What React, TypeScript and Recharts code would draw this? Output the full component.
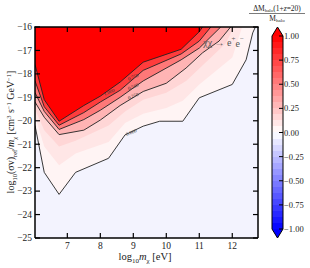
import React from 'react';
import { ComposedChart, Area, XAxis, YAxis, CartesianGrid, ReferenceDot, BarChart, Bar } from 'recharts';

const X_TICKS = [7, 8, 9, 10, 11, 12];
const Y_TICKS = [-25, -24, -23, -22, -21, -20, -19, -18, -17, -16];
const CBAR_TICKS = [-1, -0.75, -0.5, -0.25, 0, 0.25, 0.5, 0.75, 1];
const X_DOMAIN = [6.02, 12.78];
const Y_DOMAIN = [-25, -16];

// contours of dM/M: [log10 m (eV), log10 <sv>/m]
const LEVEL_000 = [[6.02, -20.2], [6.3, -22.2], [6.75, -23.14], [7.25, -22.2], [8.25, -21.6], [8.75, -20.6], [9.3, -20.23], [9.8, -20.02], [10.5, -20.02], [11.0, -19.02], [12.0, -18.45], [12.42, -17.4], [12.62, -16.25], [12.7, -16]];
const LEVEL_008 = [[6.02, -19.8], [6.3, -21.1], [6.75, -21.9], [7.25, -21.4], [8.25, -20.9], [8.75, -20.1], [9.3, -19.7], [10.0, -19.45], [10.5, -19.15], [11.0, -18.45], [12.0, -17.3], [12.3, -16]];
const LEVEL_016 = [[6.02, -19.5], [6.3, -20.4], [6.75, -21.1], [7.25, -20.85], [8.25, -20.2], [8.75, -19.6], [9.3, -19.1], [10.0, -18.8], [10.6, -18.3], [11.2, -17.5], [11.8, -16.7], [12.05, -16]];
const LEVEL_025 = [[6.02, -19.2], [6.3, -19.85], [6.75, -20.59], [7.5, -20.4], [8.0, -19.97], [8.6, -19.35], [9.3, -18.75], [10.0, -18.4], [10.6, -17.75], [11.1, -17.1], [11.6, -16.6], [11.95, -16]];
const LEVEL_050 = [[6.02, -18.8], [6.3, -19.6], [6.75, -20.37], [7.5, -19.95], [8.0, -19.55], [8.6, -19.0], [9.3, -18.3], [10.45, -17.4], [11.0, -16.9], [11.65, -16]];
const LEVEL_075 = [[6.02, -18.3], [6.3, -19.4], [6.75, -20.19], [7.5, -19.65], [8.0, -19.2], [8.6, -18.7], [9.3, -17.85], [10.45, -17.15], [11.0, -16.6], [11.35, -16]];
const LEVEL_100 = [[6.02, -17.6], [6.3, -19.1], [6.75, -20.02], [7.5, -19.35], [8.0, -18.95], [8.6, -18.35], [9.3, -17.5], [10.45, -16.95], [11.0, -16.2], [11.1, -16]];

const CONTOUR_LABELS = [
  { x: 8.27, y: -18.78, text: '1.000' },
  { x: 9.0, y: -18.14, text: '0.750' },
  { x: 9.0, y: -18.55, text: '0.500' },
  { x: 9.0, y: -18.95, text: '0.250' },
  { x: 8.94, y: -20.5, text: '0.000' },
];

const LEVELS: [string, number[][]][] = [
  ['c000', LEVEL_000], ['c008', LEVEL_008], ['c016', LEVEL_016], ['c025', LEVEL_025],
  ['c050', LEVEL_050], ['c075', LEVEL_075], ['c100', LEVEL_100],
];

const xs = Array.from(new Set(LEVELS.flatMap(([, pts]) => pts.map((p) => p[0])))).sort((a, b) => a - b);
const table = xs.map((x) => {
  const row: Record<string, number | null> = { x };
  LEVELS.forEach(([key, pts]) => {
    const hit = pts.find((p) => p[0] === x);
    row[key] = hit ? hit[1] : null;
  });
  return row;
});

// plot box (chart margins below are derived from it)
const W = 310;
const H = 268;
const PLOT = { left: 35, top: 27, right: 258, bottom: 238 };

const bwr = (v: number) => {
  const t = (v + 1) / 2;
  const r = t < 0.5 ? 2 * t : 1;
  const g = t < 0.5 ? 2 * t : 2 * (1 - t);
  const b = t < 0.5 ? 1 : 2 * (1 - t);
  const h = (c: number) => Math.round(c * 255).toString(16).padStart(2, '0');
  return `#${h(r)}${h(g)}${h(b)}`;
};

const FONT = '"Liberation Serif", "DejaVu Serif", serif';
const minus = (s: string) => s.replace('-', '\u2212');

const ColorbarShape = (props: any) => {
  const { x, y, width, height } = props;
  const n = 32;
  const stops: React.ReactNode[] = [];
  for (let i = 0; i < n; i++) {
    const c = bwr(1 - ((i + 0.5) * 2) / n);
    stops.push(<stop key={`a${i}`} offset={i / n} stopColor={c} />);
    stops.push(<stop key={`b${i}`} offset={(i + 1) / n} stopColor={c} />);
  }
  const tri = 9;
  return (
    <g>
      <defs>
        <linearGradient id="bwrGrad" x1="0" y1="0" x2="0" y2="1">{stops}</linearGradient>
      </defs>
      <rect x={x} y={y} width={width} height={height} fill="url(#bwrGrad)" />
      <polygon points={`${x},${y} ${x + width},${y} ${x + width / 2},${y - tri}`} fill="#ff0000" />
      <polygon points={`${x},${y + height} ${x + width},${y + height} ${x + width / 2},${y + height + tri}`} fill="#0000ff" />
      <path
        d={`M${x},${y} L${x + width / 2},${y - tri} L${x + width},${y} L${x + width},${y + height} L${x + width / 2},${y + height + tri} L${x},${y + height} Z`}
        fill="none" stroke="#000" strokeWidth={1}
      />
    </g>
  );
};

const App: React.FC = () => {
  const areaStyle = (key: string, fill: string, line: boolean) => (
    <Area
      key={key}
      dataKey={key}
      type="linear"
      baseValue={-16}
      connectNulls
      fill={fill}
      fillOpacity={1}
      stroke={line ? '#222' : 'none'}
      strokeWidth={0.9}
      dot={false}
      activeDot={false}
      isAnimationActive={false}
    />
  );
  // top / right frame ticks (mirrors of the bottom / left axes)
  const tx = (v: number) => PLOT.left + ((v - X_DOMAIN[0]) / (X_DOMAIN[1] - X_DOMAIN[0])) * (PLOT.right - PLOT.left);
  const ty = (v: number) => PLOT.bottom - ((v - Y_DOMAIN[0]) / (Y_DOMAIN[1] - Y_DOMAIN[0])) * (PLOT.bottom - PLOT.top);
  return (
    <div style={{ position: 'absolute', left: 0, top: 0, width: W, height: H, background: '#fff' }}>
      <div style={{ position: 'absolute', left: 0, top: 0 }}>
        <ComposedChart width={W} height={H} data={table} margin={{ top: PLOT.top, right: W - PLOT.right, bottom: 0, left: 0 }}>
          <CartesianGrid fill="#f3f3fe" horizontal={false} vertical={false} />
          <XAxis
            type="number" dataKey="x" domain={X_DOMAIN} ticks={X_TICKS} allowDataOverflow
            height={H - PLOT.bottom} tickSize={-5} tickMargin={9}
            axisLine={{ stroke: '#000', strokeWidth: 1.5 }} tickLine={{ stroke: '#000', strokeWidth: 1.2 }}
            tick={{ fill: '#222', fontSize: 9.5, fontFamily: FONT }}
          />
          <YAxis
            type="number" domain={Y_DOMAIN} ticks={Y_TICKS} allowDataOverflow
            width={PLOT.left} tickSize={-5} tickMargin={8} tickFormatter={(v) => minus(String(v))}
            axisLine={{ stroke: '#000', strokeWidth: 1.5 }} tickLine={{ stroke: '#000', strokeWidth: 1.2 }}
            tick={{ fill: '#222', fontSize: 9.5, fontFamily: FONT }}
          />
          {areaStyle('c000', '#fff4f4', true)}
          {areaStyle('c008', '#ffe6e6', false)}
          {areaStyle('c016', '#ffd6d6', false)}
          {areaStyle('c025', '#ffb4b4', true)}
          {areaStyle('c050', '#ff7878', true)}
          {areaStyle('c075', '#ff3c3c', true)}
          {areaStyle('c100', '#ff0000', true)}
          {CONTOUR_LABELS.map((l) => (
            <ReferenceDot
              key={l.text} x={l.x} y={l.y} r={0} ifOverflow="visible"
              shape={(p: any) => (
                <text x={p.cx} y={p.cy} textAnchor="middle" dominantBaseline="central" fontSize={5} fontFamily={FONT} fill="#333"
                  transform={`rotate(-22 ${p.cx} ${p.cy})`}>{l.text}</text>
              )}
            />
          ))}
          <ReferenceDot
            x={11.12} y={-16.68} r={0} ifOverflow="visible"
            shape={(p: any) => (
              <text x={p.cx} y={p.cy} dominantBaseline="central" fontSize={10} fontFamily={FONT} fill="#555">
                χχ → e<tspan dy={-3.5} fontSize={7}>+</tspan><tspan dy={3.5}>e</tspan><tspan dy={-3.5} fontSize={7}>−</tspan>
              </text>
            )}
          />
        </ComposedChart>
      </div>
      <div style={{ position: 'absolute', left: 0, top: 0 }}>
        <BarChart width={W} height={H} data={[{ name: 'cb', range: [-1, 1] }]} barCategoryGap={0}
          margin={{ top: 36, right: 22, bottom: 39, left: 272 }}>
          <XAxis dataKey="name" hide />
          <YAxis
            orientation="right" type="number" domain={[-1, 1]} ticks={CBAR_TICKS} width={5}
            tickSize={-4} tickMargin={5} axisLine={false}
            tickLine={{ stroke: '#000', strokeWidth: 1 }}
            tickFormatter={(v) => minus(Number(v).toFixed(2))}
            tick={{ fill: '#222', fontSize: 8.5, fontFamily: FONT, textAnchor: 'start' }}
          />
          <Bar dataKey="range" shape={ColorbarShape} isAnimationActive={false} />
        </BarChart>
      </div>
      <svg width={W} height={H} style={{ position: 'absolute', left: 0, top: 0, pointerEvents: 'none' }} fontFamily={FONT} fill="#222">
        <line x1={PLOT.left - 0.75} x2={PLOT.right + 0.75} y1={PLOT.top} y2={PLOT.top} stroke="#000" strokeWidth={1.5} />
        <line x1={PLOT.right} x2={PLOT.right} y1={PLOT.top} y2={PLOT.bottom} stroke="#000" strokeWidth={1.5} />
        {X_TICKS.map((t) => (
          <line key={`tt${t}`} x1={tx(t)} x2={tx(t)} y1={PLOT.top} y2={PLOT.top + 5} stroke="#000" strokeWidth={1.2} />
        ))}
        {Y_TICKS.map((t) => (
          <line key={`rt${t}`} x1={PLOT.right} x2={PLOT.right - 5} y1={ty(t)} y2={ty(t)} stroke="#000" strokeWidth={1.2} />
        ))}
        <text x={145} y={260} textAnchor="middle" fontSize={10.5}>
          log<tspan dy={2.5} fontSize={7}>10</tspan><tspan dy={-2.5} fontStyle="italic">m</tspan><tspan dy={2.5} fontSize={7}>χ</tspan><tspan dy={-2.5}> [eV]</tspan>
        </text>
        <text transform="translate(14,132) rotate(-90)" textAnchor="middle" fontSize={10}>
          log<tspan dy={2.5} fontSize={6.5}>10</tspan><tspan dy={-2.5}>(σv)</tspan><tspan dy={2.5} fontSize={6.5}>ref</tspan><tspan dy={-2.5}>/</tspan><tspan fontStyle="italic">m</tspan><tspan dy={2.5} fontSize={6.5}>χ</tspan><tspan dy={-2.5}> [cm</tspan><tspan dy={-3.5} fontSize={6.5}>3</tspan><tspan dy={3.5}> s</tspan><tspan dy={-3.5} fontSize={6.5}>−1</tspan><tspan dy={3.5}> GeV</tspan><tspan dy={-3.5} fontSize={6.5}>−1</tspan><tspan dy={3.5}>]</tspan>
        </text>
        <text x={277} y={10.5} textAnchor="middle" fontSize={7.5}>
          ΔM<tspan dy={1.8} fontSize={5}>halo</tspan><tspan dy={-1.8}>(1+</tspan><tspan fontStyle="italic">z</tspan>=20)
        </text>
        <line x1={249} x2={305} y1={13.5} y2={13.5} stroke="#222" strokeWidth={0.6} />
        <text x={277} y={20.5} textAnchor="middle" fontSize={7.5}>
          M<tspan dy={1.8} fontSize={5}>halo</tspan>
        </text>
      </svg>
    </div>
  );
};

export default App;
